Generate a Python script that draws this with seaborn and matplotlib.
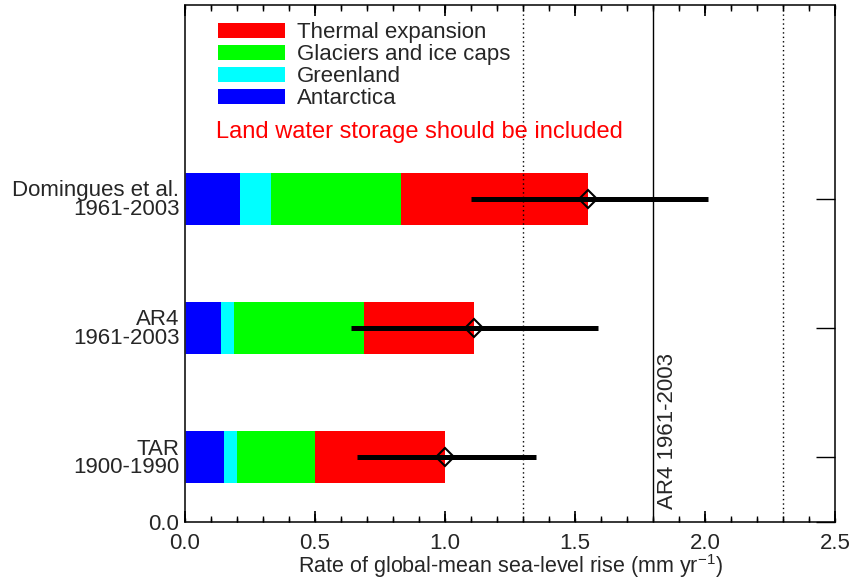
import numpy as np
import pandas as pd
import matplotlib
matplotlib.use("Agg")
import matplotlib.pyplot as plt
import matplotlib.transforms as mtransforms
from matplotlib.patches import Patch
from matplotlib.ticker import FormatStrFormatter
import seaborn as sns

# ---------------- data ----------------
studies = ["TAR\n1900-1990", "AR4\n1961-2003", "Domingues et al.\n1961-2003"]
antarctica = [0.15, 0.14, 0.21]
greenland = [0.05, 0.05, 0.12]
glaciers = [0.30, 0.50, 0.50]
thermal = [0.50, 0.42, 0.72]
err_low = [0.66, 0.64, 1.10]
err_high = [1.35, 1.59, 2.01]
obs_lines = [1.3, 1.8, 2.3]          # AR4 observed 1961-2003 estimate and range
obs_label = "AR4 1961-2003"
components = ["Thermal expansion", "Glaciers and ice caps", "Greenland", "Antarctica"]
comp_colors = ["#ff0000", "#00ff00", "#00ffff", "#0000ff"]
note = "Land water storage should be included"
xlabel = "Rate of global-mean sea-level rise (mm yr$^{-1}$)"

# ---------------- style ----------------
sns.set_style("ticks")
plt.rcParams["font.family"] = ["Liberation Sans", "DejaVu Sans"]
plt.rcParams["mathtext.fontset"] = "custom"
plt.rcParams["mathtext.rm"] = "Liberation Sans"
plt.rcParams["mathtext.it"] = "Liberation Sans:italic"
plt.rcParams["axes.axisbelow"] = False
FS = 16

pos = np.arange(len(studies)) + 0.5
c_ant = np.array(antarctica)
c_gre = c_ant + np.array(greenland)
c_gla = c_gre + np.array(glaciers)
c_the = c_gla + np.array(thermal)
stack = {"Thermal expansion": c_the, "Glaciers and ice caps": c_gla,
         "Greenland": c_gre, "Antarctica": c_ant}
long = pd.DataFrame({
    "pos": np.tile(pos, len(components)),
    "value": np.concatenate([stack[c] for c in components]),
    "component": np.repeat(components, len(pos)),
})

fig = plt.figure(figsize=(8.54, 5.84), dpi=100)
ax = fig.add_axes([185 / 854, 1 - 521.7 / 584, 650 / 854, 516.7 / 584])

sns.barplot(data=long, x="value", y="pos", hue="component", hue_order=components,
            palette=dict(zip(components, comp_colors)), orient="h",
            native_scale=True, dodge=False, width=0.4, saturation=1,
            errorbar=None, linewidth=0, edgecolor="none", legend=False,
            ax=ax, zorder=2)

# reference lines
for v in obs_lines:
    if v == obs_lines[1]:
        ax.axvline(v, color="black", lw=1.0, zorder=1)
    else:
        ax.axvline(v, color="black", lw=1.0, ls=(0, (1, 2.2)), zorder=3)
ax.text(obs_lines[1] + 0.055, 0.1, obs_label, rotation=90, ha="center",
        va="bottom", fontsize=FS, zorder=4)

# error bars and central estimates
for p, lo, hi, tot in zip(pos, err_low, err_high, c_the):
    ax.plot([lo, hi], [p, p], color="black", lw=3.6, solid_capstyle="butt", zorder=5)
    ax.plot([tot], [p], marker="D", markersize=9.5, fillstyle="none",
            markeredgecolor="black", markeredgewidth=1.5, zorder=6)

# axes
ax.set_xlim(0, 2.5)
ax.set_ylim(0, 4)
major = np.arange(0, 2.51, 0.5)
minor = np.arange(0, 2.51, 0.1)
ax.set_xticks(major)
ax.set_xticks(minor, minor=True)
ax.xaxis.set_major_formatter(FormatStrFormatter("%.1f"))
ax.set_yticks([0] + list(pos))
ax.set_yticklabels(["0.0"] + studies, fontsize=FS, linespacing=0.85)
offset = mtransforms.ScaledTranslation(0, -8 / 100, fig.dpi_scale_trans)
for lbl in ax.get_yticklabels()[1:]:
    lbl.set_transform(lbl.get_transform() + offset)
for s in ax.spines.values():
    s.set_linewidth(1.3)
    s.set_visible(True)
ax.set_xlabel(xlabel, fontsize=15.5, labelpad=-1)
ax.set_ylabel("")

handles = [Patch(facecolor=c, edgecolor="none") for c in comp_colors]
ax.legend(handles, components, loc="upper left", frameon=False,
          fontsize=FS, handlelength=3.0, handleheight=0.68,
          labelspacing=0.05, handletextpad=0.55,
          bbox_to_anchor=(0.037, 0.984), borderaxespad=0)
ax.text(0.047, 0.755, note, transform=ax.transAxes, color="red",
        fontsize=17, ha="left", va="center")

# tick styling
ax.tick_params(axis="x", which="major", direction="in", length=8, width=1.2,
               top=True, bottom=True, labelsize=FS, pad=8, color="black")
ax.tick_params(axis="x", which="minor", direction="in", length=4, width=1.0,
               top=True, bottom=True, color="black")
ax.tick_params(axis="y", which="major", direction="in", length=14, width=1.0,
               left=False, right=True, pad=4, color="black")

# inward x tick marks on bottom and top edges, at the axis' tick locations
trans = ax.get_xaxis_transform()
h_px = ax.get_position().height * fig.get_figheight() * fig.dpi
for locs, length, lw in [(major, 8, 1.2), (minor, 4, 1.0)]:
    frac = length / h_px
    for xv in locs:
        ax.plot([xv, xv], [0, frac], color="black", lw=lw, transform=trans,
                clip_on=False, zorder=10, solid_capstyle="butt")
        ax.plot([xv, xv], [1 - frac, 1], color="black", lw=lw, transform=trans,
                clip_on=False, zorder=10, solid_capstyle="butt")

fig.savefig("out.png", dpi=100)
